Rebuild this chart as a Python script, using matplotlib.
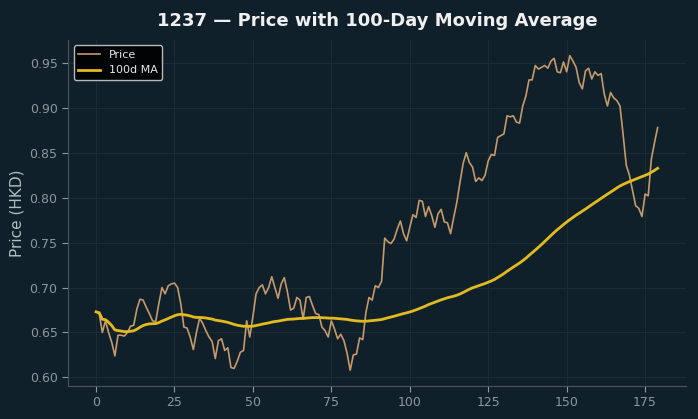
import numpy as np
import pandas as pd
import matplotlib
matplotlib.use("Agg")
import matplotlib.pyplot as plt

title = "1237 — Price with 100-Day Moving Average"
ylabel = "Price (HKD)"
price_label = "Price"
ma_label = "100d MA"
ma_window = 100

price = [
    0.673, 0.671, 0.650, 0.663, 0.650, 0.639, 0.624, 0.647, 0.647, 0.646,
    0.650, 0.657, 0.658, 0.676, 0.687, 0.686, 0.678, 0.671, 0.663, 0.662,
    0.682, 0.700, 0.693, 0.702, 0.704, 0.705, 0.700, 0.682, 0.656, 0.655,
    0.645, 0.631, 0.650, 0.666, 0.660, 0.652, 0.645, 0.640, 0.621, 0.641,
    0.643, 0.630, 0.633, 0.611, 0.610, 0.618, 0.628, 0.630, 0.663, 0.645,
    0.668, 0.693, 0.700, 0.703, 0.693, 0.700, 0.712, 0.700, 0.688, 0.704,
    0.711, 0.695, 0.675, 0.677, 0.689, 0.686, 0.665, 0.689, 0.690, 0.680,
    0.671, 0.670, 0.656, 0.652, 0.645, 0.663, 0.654, 0.643, 0.648, 0.641,
    0.627, 0.608, 0.625, 0.626, 0.644, 0.642, 0.672, 0.689, 0.686, 0.702,
    0.700, 0.707, 0.755, 0.751, 0.749, 0.754, 0.765, 0.774, 0.760, 0.752,
    0.767, 0.781, 0.778, 0.797, 0.796, 0.779, 0.790, 0.780, 0.767, 0.782,
    0.787, 0.773, 0.772, 0.760, 0.778, 0.795, 0.817, 0.838, 0.850, 0.839,
    0.834, 0.818, 0.822, 0.819, 0.825, 0.841, 0.848, 0.847, 0.867, 0.869,
    0.871, 0.891, 0.890, 0.891, 0.884, 0.883, 0.902, 0.913, 0.931, 0.931,
    0.947, 0.943, 0.945, 0.947, 0.944, 0.952, 0.955, 0.940, 0.939, 0.951,
    0.940, 0.958, 0.952, 0.945, 0.928, 0.921, 0.941, 0.944, 0.932, 0.940,
    0.936, 0.938, 0.915, 0.902, 0.917, 0.911, 0.908, 0.902, 0.870, 0.836,
    0.825, 0.808, 0.791, 0.788, 0.779, 0.804, 0.802, 0.843, 0.861, 0.878,
]

days = np.arange(len(price))
ma = pd.Series(price).rolling(ma_window, min_periods=1).mean()

bg = "#10202a"
fig = plt.figure(figsize=(6.98, 4.19), dpi=100, facecolor=bg)
ax = fig.add_axes([0.0974, 0.0788, 0.885, 0.826], facecolor=bg)

ax.plot(days, price, color="#c49a6c", lw=1.2, label=price_label)
ax.plot(days, ma, color="#e3bb1f", lw=2.0, label=ma_label)

ax.set_xticks([0, 25, 50, 75, 100, 125, 150, 175])
ax.set_yticks(np.arange(0.60, 0.951, 0.05))
ax.yaxis.set_major_formatter(matplotlib.ticker.FormatStrFormatter("%.2f"))

ax.grid(True, color="#1c2c33", lw=0.8)
ax.set_axisbelow(True)
for s in ["top", "right"]:
    ax.spines[s].set_visible(False)
for s in ["left", "bottom"]:
    ax.spines[s].set_color("#4a555a")
ax.tick_params(colors="#8e979b", labelsize=9, length=4)

ax.set_ylabel(ylabel, color="#b4bcc0", fontsize=11)
ax.set_title(title, color="#f0f0f0", fontsize=13, fontweight="bold", pad=10)

leg = ax.legend(loc="upper left", fontsize=8, facecolor="#000000",
                edgecolor="#cccccc", framealpha=0.9)
for t in leg.get_texts():
    t.set_color("#e8e8e8")

fig.savefig("out.png", dpi=100, facecolor=bg)
